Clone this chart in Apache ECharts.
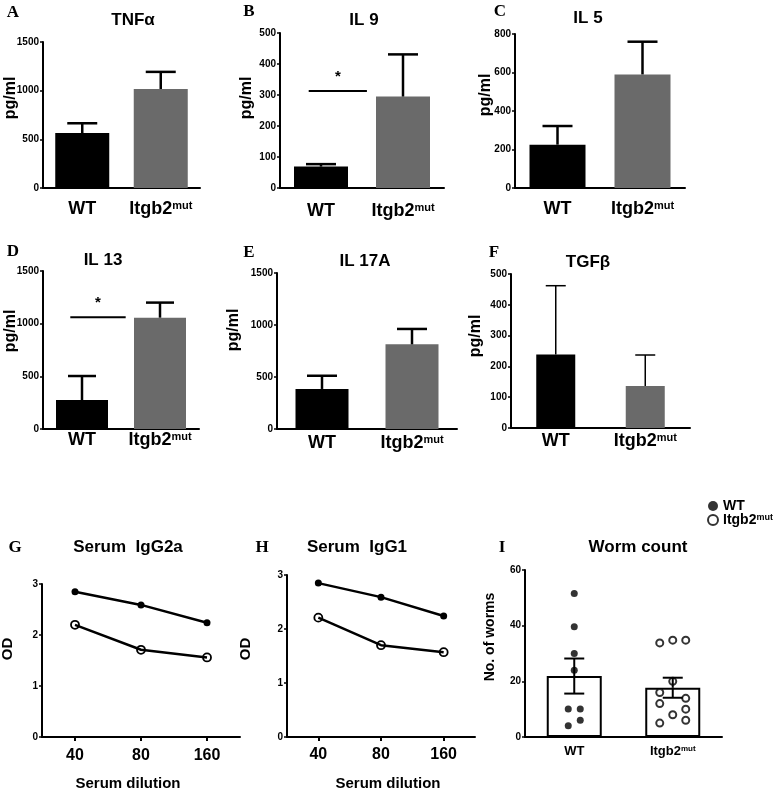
<!DOCTYPE html>
<html>
<head>
<meta charset="utf-8">
<script src="https://cdn.jsdelivr.net/npm/echarts@6/dist/echarts.min.js"></script>
<style>
html,body{margin:0;padding:0;background:#fff;}
#chart{width:778px;height:792px;}
</style>
</head>
<body>
<div id="chart"></div>
<script>
// ---------------- DATA ----------------
const groups = ['WT', 'Itgb2mut'];
const tnfMean = [565, 1017];
const tnfSem = [100, 176];
const il9Mean = [69, 295];
const il9Sem = [8, 136];
const il9Sig = 313;
const il5Mean = [225, 590];
const il5Sem = [97, 170];
const il13Mean = [275, 1057];
const il13Sem = [228, 143];
const il13Sig = 1060;
const il17Mean = [385, 814];
const il17Sem = [127, 148];
const tgfMean = [239, 136];
const tgfSem = [223, 101];

const dilutions = ['40', '80', '160'];
const igg2aWT = [2.85, 2.59, 2.24];
const igg2aMut = [2.20, 1.71, 1.56];
const igg1WT = [2.85, 2.59, 2.24];
const igg1Mut = [2.21, 1.70, 1.57];

const wormMean = [21.9, 17.7];
const wormSem = [6.3, 3.6];
const wormWT = [51.6, 39.6, 30, 24, 10.1, 10.1, 6, 4];
const wormMut = [33.8, 34.8, 34.8, 20, 16, 12, 13.9, 10, 8, 5, 6];

// ---------------- LAYOUT / STYLE ----------------
const wormWTCol = [0, 0, 0, 0, -1, 1, 1, -1];
const wormMutCol = [-1, 0, 1, 0, -1, -1, 1, 1, 0, -1, 1];
const SANS = '"Liberation Sans", Arial, sans-serif';
const NARROW = '"Liberation Sans Narrow", "Liberation Sans", Arial, sans-serif';
const SERIF = '"Liberation Serif", "Times New Roman", serif';
const GRAY = '#6a6a6a';
const barColors = ['#000000', GRAY];

const grids = [], xAxes = [], yAxes = [], series = [], graphics = [];

function catFmt(v) { return v === 'Itgb2mut' ? '{a|Itgb2}{b|mut}' : '{a|' + v + '}'; }
function rich(fs) {
  return {
    a: {fontSize: fs, fontWeight: 'bold', fontFamily: SANS, color: '#000'},
    b: {fontSize: Math.round(fs * 0.62), fontWeight: 'bold', fontFamily: SANS, color: '#000', verticalAlign: 'top'}
  };
}

function addGrid(g, cats, yMax, yInt, xFont, xMargin, xTick) {
  const idx = grids.length;
  grids.push({left: g[0], top: g[1], width: g[2], height: g[3], containLabel: false});
  xAxes.push({
    gridIndex: idx, type: 'category', data: cats,
    axisLine: {lineStyle: {color: '#000', width: 2}},
    axisTick: {show: !!xTick, length: 4, alignWithLabel: true, lineStyle: {color: '#000', width: 2}},
    axisLabel: {margin: xMargin, color: '#000', formatter: catFmt, rich: rich(xFont), interval: 0},
    splitLine: {show: false}
  });
  yAxes.push({
    gridIndex: idx, type: 'value', min: 0, max: yMax, interval: yInt,
    axisLine: {show: true, lineStyle: {color: '#000', width: 2}},
    axisTick: {show: true, length: 3, lineStyle: {color: '#000', width: 1.5}},
    axisLabel: {margin: 4, color: '#000', fontSize: 10, fontWeight: 'bold', fontFamily: NARROW,
      formatter: v => String(v)},
    splitLine: {show: false}
  });
  return idx;
}

function errSeries(idx, mean, sem, cap, lw, both) {
  return {
    type: 'custom', xAxisIndex: idx, yAxisIndex: idx, z: 6, silent: true,
    data: mean.map((m, i) => [i, m, sem[i]]),
    renderItem: function (params, api) {
      const x = api.value(0), m = api.value(1), s = api.value(2);
      const p0 = api.coord([x, m]);
      const pu = api.coord([x, m + s]);
      const st = {stroke: '#000', lineWidth: lw};
      const ch = [
        {type: 'line', shape: {x1: p0[0], y1: p0[1], x2: pu[0], y2: pu[1]}, style: st},
        {type: 'line', shape: {x1: pu[0] - cap / 2, y1: pu[1], x2: pu[0] + cap / 2, y2: pu[1]}, style: st}
      ];
      if (both) {
        const pd = api.coord([x, m - s]);
        ch.push({type: 'line', shape: {x1: p0[0], y1: p0[1], x2: pd[0], y2: pd[1]}, style: st});
        ch.push({type: 'line', shape: {x1: pd[0] - cap / 2, y1: pd[1], x2: pd[0] + cap / 2, y2: pd[1]}, style: st});
      }
      return {type: 'group', children: ch};
    }
  };
}

function sigSeries(idx, yv) {
  return {
    type: 'custom', xAxisIndex: idx, yAxisIndex: idx, z: 6, silent: true,
    data: [[0, yv]],
    renderItem: function (params, api) {
      const p = api.coord([api.value(0), api.value(1)]);
      const bw = api.size([1, 0])[0];
      const x1 = p[0] - 0.15 * bw, x2 = p[0] + 0.56 * bw;
      return {type: 'group', children: [
        {type: 'line', shape: {x1: x1, y1: p[1], x2: x2, y2: p[1]}, style: {stroke: '#000', lineWidth: 2}},
        {type: 'text', x: (x1 + x2) / 2, y: p[1] - 14, style: {text: '*', align: 'center', verticalAlign: 'middle', font: 'bold 15px ' + SANS, fill: '#000'}}
      ]};
    }
  };
}

function barPanel(g, mean, sem, yMax, yInt, xMargin, bw, cap, lw, sig) {
  const idx = addGrid(g, groups, yMax, yInt, 18, xMargin, false);
  series.push({
    type: 'bar', xAxisIndex: idx, yAxisIndex: idx, barWidth: bw, silent: true,
    data: mean.map((v, i) => ({value: v, itemStyle: {color: barColors[i]}}))
  });
  series.push(errSeries(idx, mean, sem, cap, lw, false));
  if (sig !== undefined) series.push(sigSeries(idx, sig));
}

function label(text, x, y, font, rot) {
  graphics.push({type: 'text', x: x, y: y, rotation: rot || 0, silent: true,
    style: {text: text, font: font, fill: '#000', align: 'center', verticalAlign: 'middle'}});
}

// Row 1-2 bar panels
barPanel([43, 42, 157, 146], tnfMean, tnfSem, 1500, 500, 12, 54, 30, 2.5);
barPanel([280, 33, 164, 155], il9Mean, il9Sem, 500, 100, 14, 54, 30, 2.5, il9Sig);
barPanel([515, 34, 170, 154], il5Mean, il5Sem, 800, 200, 12, 56, 30, 2.5);
barPanel([43, 271, 156, 158], il13Mean, il13Sem, 1500, 500, 2, 52, 28, 2.5, il13Sig);
barPanel([277, 273, 180, 156], il17Mean, il17Sem, 1500, 500, 5, 53, 30, 2.5);
barPanel([511, 274, 179, 154], tgfMean, tgfSem, 500, 100, 4, 39, 20, 1.5);

// Line panels
function linePanel(g, wt, mut, nm, xMargin) {
  const idx = addGrid(g, dilutions, 3, 1, 16, xMargin, true);
  series.push({
    name: 'WT ' + nm, type: 'line', xAxisIndex: idx, yAxisIndex: idx, data: wt,
    symbol: 'circle', symbolSize: 7, lineStyle: {color: '#000', width: 2.5},
    itemStyle: {color: '#000'}, silent: true
  });
  series.push({
    name: 'Itgb2mut ' + nm, type: 'line', xAxisIndex: idx, yAxisIndex: idx, data: mut,
    symbol: 'circle', symbolSize: 8, lineStyle: {color: '#000', width: 2.5},
    itemStyle: {color: 'rgba(255,255,255,0)', borderColor: '#000', borderWidth: 1.8}, silent: true
  });
}
linePanel([42, 584, 198, 153], igg2aWT, igg2aMut, 'IgG2a', 11);
linePanel([287, 575, 188, 162], igg1WT, igg1Mut, 'IgG1', 10);

// Worm count panel
(function () {
  const idx = addGrid([525, 570, 197, 167], groups, 60, 20, 13, 8, false);
  series.push({
    type: 'bar', xAxisIndex: idx, yAxisIndex: idx, barWidth: 55, silent: true, z: 2,
    data: wormMean, itemStyle: {color: '#fff', borderColor: '#000', borderWidth: 2}
  });
  series.push({
    name: 'WT', type: 'scatter', xAxisIndex: idx, yAxisIndex: idx, symbol: 'circle', symbolSize: 7, z: 4,
    itemStyle: {color: '#000'}, silent: true,
    data: wormWT.map((v, i) => ({value: [0, v], symbolOffset: [wormWTCol[i] * 6, 0]}))
  });
  series.push({
    name: 'Itgb2mut', type: 'scatter', xAxisIndex: idx, yAxisIndex: idx, symbol: 'circle', symbolSize: 7, z: 4,
    itemStyle: {color: '#fff', borderColor: '#000', borderWidth: 2}, silent: true,
    data: wormMut.map((v, i) => ({value: [1, v], symbolOffset: [wormMutCol[i] * 13, 0]}))
  });
  series.push(errSeries(idx, wormMean, wormSem, 20, 2, true));
})();

// Panel letters
const LETTER = 'bold 17px ' + SERIF;
[['A', 13, 13], ['B', 249, 12], ['C', 500, 12], ['D', 13, 252], ['E', 249, 253], ['F', 494, 253],
 ['G', 15, 548], ['H', 262, 548], ['I', 502, 548]].forEach(l => label(l[0], l[1], l[2], LETTER));

// Titles
const TITLE = 'bold 17px ' + SANS;
[['TNFα', 133, 20], ['IL 9', 364, 20], ['IL 5', 588, 18], ['IL 13', 103, 260], ['IL 17A', 365, 261],
 ['TGFβ', 588, 262], ['Serum  IgG2a', 128, 547], ['Serum  IgG1', 357, 547], ['Worm count', 638, 547]]
  .forEach(t => label(t[0], t[1], t[2], TITLE));

// Axis titles
const YN = 'bold 16px ' + SANS;
const R = Math.PI / 2;
[[11, 98], [247, 98], [486, 95], [11, 331], [234, 330], [476, 336]].forEach(p => label('pg/ml', p[0], p[1], YN, R));
label('OD', 8, 649, 'bold 15px ' + SANS, R);
label('OD', 246, 649, 'bold 15px ' + SANS, R);
label('No. of worms', 490, 637, 'bold 14px ' + SANS, R);
label('Serum dilution', 128, 784, 'bold 15px ' + SANS);
label('Serum dilution', 388, 784, 'bold 15px ' + SANS);

const option = {
  animation: false,
  backgroundColor: '#fff',
  grid: grids, xAxis: xAxes, yAxis: yAxes, series: series, graphic: graphics,
  legend: {
    left: 702, top: 494, orient: 'vertical', itemGap: 0, itemWidth: 10, itemHeight: 10,
    selectedMode: false, data: ['WT', 'Itgb2mut'],
    formatter: n => n === 'WT' ? '{a|WT}' : '{a|Itgb2}{b|mut}',
    textStyle: {rich: {
      a: {fontSize: 14, fontWeight: 'bold', fontFamily: SANS, color: '#000'},
      b: {fontSize: 9, fontWeight: 'bold', fontFamily: SANS, color: '#000', verticalAlign: 'top'}
    }}
  }
};
const chart = echarts.init(document.getElementById('chart'), null, {renderer: 'canvas'});
chart.setOption(option);
</script>
</body>
</html>
